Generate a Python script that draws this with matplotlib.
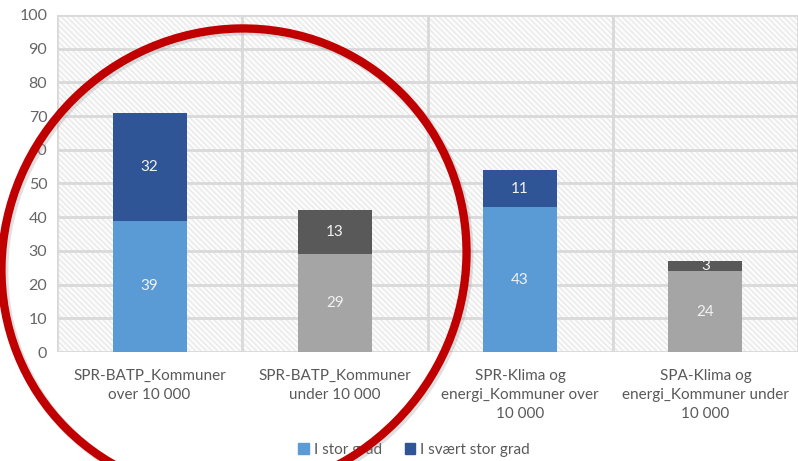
import matplotlib.pyplot as plt
import numpy as np
from matplotlib.patches import Rectangle, Ellipse

plt.rcParams['font.family'] = ['Lato', 'DejaVu Sans']
plt.rcParams['hatch.linewidth'] = 0.9

# data
categories = ['SPR-BATP_Kommuner\nover 10 000',
              'SPR-BATP_Kommuner\nunder 10 000',
              'SPR-Klima og\nenergi_Kommuner over\n10 000',
              'SPA-Klima og\nenergi_Kommuner under\n10 000']
stor_grad = [39, 29, 43, 24]
svaert_stor_grad = [32, 13, 11, 3]
series_names = ['I stor grad', 'I svært stor grad']
yticks = [0, 10, 20, 30, 40, 50, 60, 70, 80, 90, 100]

# colours: blue for "over", gray for "under"
low_cols = ['#5B9BD5', '#A5A5A5', '#5B9BD5', '#A5A5A5']
high_cols = ['#2F5597', '#595959', '#2F5597', '#595959']

fig = plt.figure(figsize=(7.98, 4.61), dpi=100)
ax = fig.add_axes([57/798, 109/461, (798-57)/798, (352-15)/461])

x = np.arange(len(categories))
bw = 0.4
ax.bar(x, stor_grad, bw, color=low_cols, zorder=3, label=series_names[0])
ax.bar(x, svaert_stor_grad, bw, bottom=stor_grad, color=high_cols, zorder=3, label=series_names[1])

for i in range(len(x)):
    ax.text(x[i], stor_grad[i]/2, str(stor_grad[i]), ha='center', va='center',
            color='#f2f2f2', fontsize=11, zorder=4)
    ax.text(x[i], stor_grad[i] + svaert_stor_grad[i]/2, str(svaert_stor_grad[i]),
            ha='center', va='center', color='#f2f2f2', fontsize=11, zorder=4)

# hatched background
bg = Rectangle((0, 0), 1, 1, transform=ax.transAxes, facecolor='#fbfbfb',
               edgecolor='#e8e8e8', hatch='\\\\\\\\\\\\', lw=0, zorder=0)
ax.add_patch(bg)

ax.set_xlim(-0.5, 3.5)
ax.set_ylim(0, 100)
ax.set_yticks(yticks)
ax.yaxis.grid(True, color='#d9d9d9', lw=2, zorder=1)
for b in np.arange(-0.5, 4, 1):
    ax.axvline(b, color='#d9d9d9', lw=2, zorder=1)
ax.set_xticks(x)
ax.set_xticklabels(categories, fontsize=11, color='#595959', linespacing=1.45)
ax.tick_params(axis='both', length=0, labelsize=11.5, labelcolor='#666666')
ax.tick_params(axis='x', labelsize=11, labelcolor='#595959', pad=12)
ax.tick_params(axis='y', pad=7)
for s in ax.spines.values():
    s.set_visible(False)

# legend only for blue series
h1 = Rectangle((0, 0), 1, 1, color='#5B9BD5')
h2 = Rectangle((0, 0), 1, 1, color='#2F5597')
fig.legend([h1, h2], series_names, loc='center', bbox_to_anchor=(414/798, 1 - 450/461),
           ncol=2, frameon=False, fontsize=11, handlelength=0.7, handleheight=0.7,
           handletextpad=0.3, columnspacing=1.5, labelcolor='#595959')

# red circle drawn on top
shadow = Ellipse((2.36, (461-263)/100), 4.74, 4.56, angle=45, transform=fig.dpi_scale_trans,
                 fill=False, edgecolor='#999999', lw=7, alpha=0.3, zorder=9)
circle = Ellipse((2.34, (461-261)/100), 4.74, 4.56, angle=45, transform=fig.dpi_scale_trans,
                 fill=False, edgecolor='#C00000', lw=6, zorder=10)
fig.add_artist(shadow)
fig.add_artist(circle)

fig.savefig('out.png', dpi=100)
